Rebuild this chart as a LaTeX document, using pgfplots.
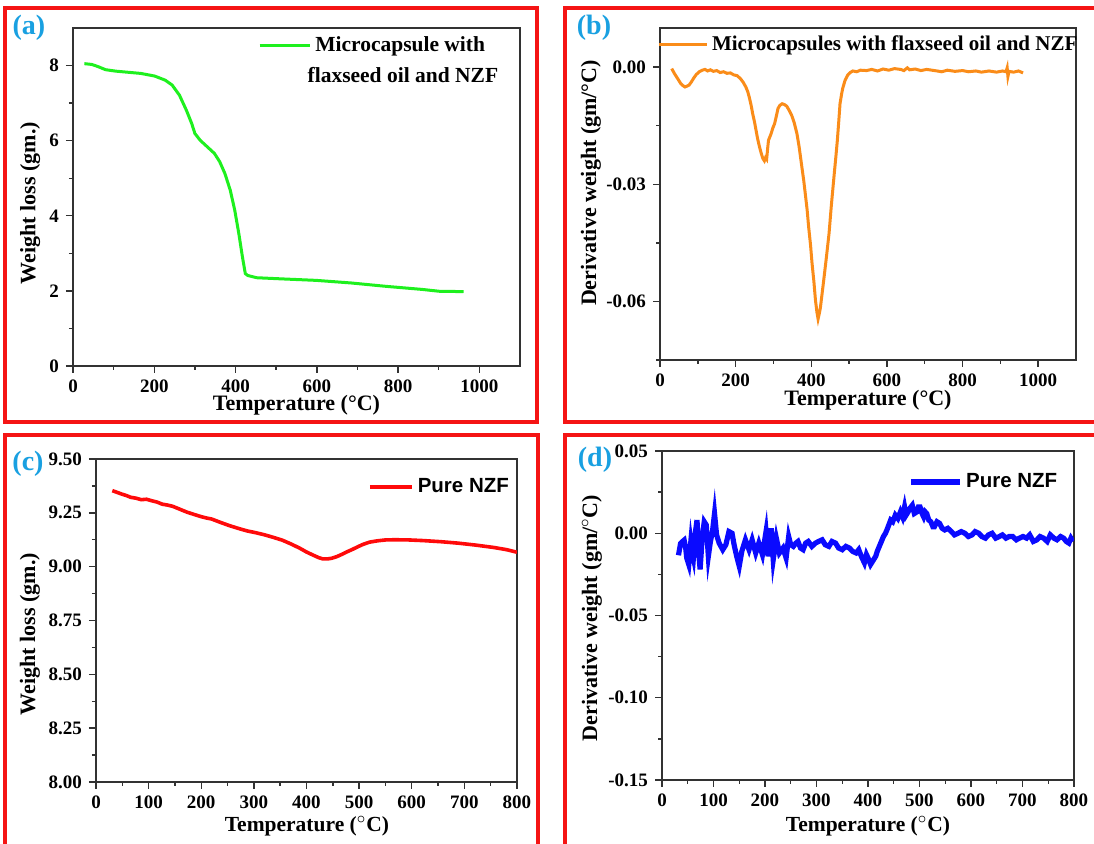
\documentclass[border=0pt]{standalone}
\usepackage{pgfplots}
\pgfplotsset{compat=1.18}
\usepackage{fontspec}
\setmainfont{Liberation Serif}
\newfontfamily\arialfont{Liberation Sans}
\definecolor{lblue}{RGB}{25,160,225}
\definecolor{cgreen}{RGB}{30,240,30}
\definecolor{corange}{RGB}{250,140,25}
\definecolor{cred}{RGB}{255,10,10}
\definecolor{cblue}{RGB}{10,10,255}
\definecolor{framered}{RGB}{245,20,20}
\definecolor{axgray}{RGB}{50,50,50}

\pgfplotsset{
  myax/.style={
    scale only axis,
    axis line style={axgray, line width=0.7pt},
    every tick/.style={axgray, line width=0.7pt},
    tick align=outside,
    tick pos=left,
    major tick length=3.5pt,
    minor tick length=2pt,
    tick label style={font=\fontsize{9.5}{11}\selectfont\bfseries},
    label style={font=\fontsize{11}{13}\selectfont\bfseries},
    /pgf/number format/assume math mode=true,
    /pgf/number format/1000 sep={},
    scaled x ticks=false, scaled y ticks=false,
    legend style={draw=none, fill=none},
    legend cell align=left,
  },
  leglen/.style={legend image code/.code={\draw[##1] (0cm,0cm) -- (#1,0cm);}},
}

\pgfplotstableread{
T W
28 8.05
46 8.03
62 7.97
80 7.89
106 7.85
167 7.79
201 7.72
227 7.61
244 7.48
262 7.21
279 6.81
292 6.46
300 6.19
313 6.01
331 5.83
348 5.66
361 5.44
374 5.12
387 4.68
398 4.15
408 3.53
417 2.90
424 2.46
430 2.41
452 2.35
512 2.32
598 2.28
685 2.21
771 2.12
858 2.04
901 1.99
961 1.98
}\tabA

\pgfplotstableread{
T D
31 -0.0004
39 -0.0018
47 -0.0030
54 -0.0041
60 -0.0047
66 -0.0051
71 -0.0049
77 -0.0046
83 -0.0038
90 -0.0027
96 -0.0019
104 -0.0012
112 -0.0008
119 -0.0006
126 -0.0010
133 -0.0007
141 -0.0011
150 -0.0009
159 -0.0014
168 -0.0012
177 -0.0016
186 -0.0015
195 -0.0020
204 -0.0022
213 -0.0030
220 -0.0039
227 -0.0051
232 -0.0063
236 -0.0077
241 -0.0098
245 -0.0119
250 -0.0141
254 -0.0162
258 -0.0183
263 -0.0204
268 -0.0222
272 -0.0234
276 -0.0240
279 -0.0232
282 -0.0236
285 -0.0205
287 -0.0187
290 -0.0180
294 -0.0170
298 -0.0157
303 -0.0145
308 -0.0124
312 -0.0106
317 -0.0098
323 -0.0094
329 -0.0096
335 -0.0100
341 -0.0110
348 -0.0123
355 -0.0143
362 -0.0170
368 -0.0205
375 -0.0255
380 -0.0290
384 -0.0323
389 -0.0365
393 -0.0409
398 -0.0455
402 -0.0502
407 -0.0550
411 -0.0596
415 -0.0628
418 -0.0645
421 -0.0632
424 -0.0617
428 -0.0585
433 -0.0545
440 -0.0487
447 -0.0426
453 -0.0355
460 -0.0281
465 -0.0230
469 -0.0187
473 -0.0135
476 -0.0094
480 -0.0070
483 -0.0055
489 -0.0035
496 -0.0021
503 -0.0014
510 -0.0010
520 -0.0012
530 -0.0008
546 -0.0009
560 -0.0006
575 -0.0010
590 -0.0005
605 -0.0008
620 -0.0004
636 -0.0006
645 -0.0009
654 -0.0002
660 -0.0007
675 -0.0005
690 -0.0009
705 -0.0006
726 -0.0009
745 -0.0012
760 -0.0008
780 -0.0011
800 -0.0009
816 -0.0012
835 -0.0010
850 -0.0013
870 -0.0010
890 -0.0013
906 -0.0010
915 -0.0012
918 -0.0002
920 -0.0024
923 -0.0011
935 -0.0013
948 -0.0010
960 -0.0015
}\tabB

\pgfplotstableread{
T W
31 9.353
40 9.345
49 9.337
58 9.330
66 9.322
76 9.318
86 9.311
96 9.313
106 9.306
116 9.300
126 9.290
136 9.286
146 9.280
160 9.266
173 9.253
187 9.242
200 9.232
210 9.226
220 9.221
236 9.206
253 9.191
270 9.178
287 9.166
303 9.158
320 9.148
337 9.136
354 9.123
370 9.106
387 9.086
400 9.068
414 9.052
423 9.042
431 9.036
440 9.036
448 9.039
458 9.047
468 9.058
478 9.070
488 9.081
498 9.093
508 9.104
520 9.114
535 9.120
550 9.124
568 9.125
595 9.124
622 9.121
655 9.116
689 9.109
722 9.100
756 9.089
780 9.079
800 9.067
}\tabC

\pgfplotstableread{
T D
32 -0.0134
36 -0.0063
40 -0.0050
43 -0.0042
46 -0.0090
48 -0.0150
52 -0.0190
56 -0.0050
59 -0.0120
61 -0.0150
65 0.0010
68 0.0080
71 -0.0110
74 -0.0220
78 -0.0030
82 0.0070
86 0.0050
90 -0.0140
94 -0.0050
98 0.0010
102 0.0120
106 -0.0010
111 -0.0060
118 -0.0100
124 -0.0070
130 0.0010
136 0.0000
140 -0.0070
145 -0.0140
150 -0.0200
155 -0.0110
162 -0.0040
169 -0.0100
175 -0.0040
182 -0.0120
188 -0.0060
195 -0.0130
202 0.0010
206 -0.0140
212 0.0030
216 -0.0160
222 -0.0030
228 -0.0120
235 -0.0090
241 -0.0150
246 -0.0020
250 -0.0070
255 -0.0080
260 -0.0060
264 -0.0050
269 -0.0090
274 -0.0100
279 -0.0060
284 -0.0050
291 -0.0080
298 -0.0060
304 -0.0050
311 -0.0040
317 -0.0070
324 -0.0080
330 -0.0050
337 -0.0060
343 -0.0090
350 -0.0100
357 -0.0080
364 -0.0090
370 -0.0110
377 -0.0120
382 -0.0100
387 -0.0140
393 -0.0180
397 -0.0130
400 -0.0150
405 -0.0190
409 -0.0170
415 -0.0140
418 -0.0110
422 -0.0080
426 -0.0050
430 -0.0020
434 0.0000
438 0.0030
444 0.0080
448 0.0070
453 0.0110
458 0.0090
463 0.0130
467 0.0100
471 0.0160
474 0.0110
477 0.0125
481 0.0150
486 0.0170
490 0.0120
495 0.0130
498 0.0160
501 0.0160
505 0.0120
508 0.0100
511 0.0130
514 0.0120
518 0.0080
522 0.0070
526 0.0040
529 0.0040
534 0.0070
539 0.0060
544 0.0030
549 0.0020
555 0.0030
562 0.0010
568 -0.0010
575 0.0000
581 0.0010
588 0.0000
595 -0.0020
602 -0.0010
608 0.0010
615 0.0000
621 -0.0020
628 -0.0030
634 -0.0010
641 0.0000
648 -0.0030
655 -0.0020
661 -0.0010
668 -0.0030
674 -0.0020
681 -0.0020
688 -0.0040
694 -0.0030
701 -0.0020
708 -0.0030
714 -0.0010
721 -0.0050
728 -0.0040
734 -0.0020
741 -0.0030
748 -0.0050
754 -0.0010
761 -0.0030
767 -0.0040
774 -0.0020
780 -0.0030
785 -0.0050
790 -0.0060
794 -0.0030
798 -0.0050
}\tabD

\begin{document}
\begin{tikzpicture}[x=0.5pt,y=0.5pt]
\useasboundingbox (0,0) rectangle (1094,844);
\fill[white] (0,0) rectangle (1094,844);
\begin{scope}
\clip (0,0) rectangle (1094,844);
\draw[framered, line width=1.6pt] (5,836) rectangle (537,422);
\draw[framered, line width=1.6pt] (565,836) rectangle (1110,422);
\draw[framered, line width=1.6pt] (5,409) rectangle (538,-20);
\draw[framered, line width=1.6pt] (565,409) rectangle (1110,-20);
\end{scope}
\coordinate (PA) at (73,478);
\coordinate (PB) at (660,484);
\coordinate (PC) at (96,62);
\coordinate (PD) at (662,64);

% (a)
\begin{axis}[myax, at={(PA)}, anchor=south west, width=223.5pt, height=169pt,
  xmin=0, xmax=1100, ymin=0, ymax=9,
  xtick={0,200,...,1000}, minor x tick num=1,
  ytick={0,2,...,8}, minor y tick num=1,
  xlabel={Temperature (°C)}, ylabel={Weight loss (gm.)},
  xlabel style={at={(axis description cs:0.5,-0.115)}, anchor=center},
  ylabel style={at={(axis description cs:-0.096,0.482)}, anchor=center},
  legend style={at={(axis description cs:0.40,0.947)}, anchor=west, font=\fontsize{10.75}{13}\selectfont\bfseries},
  leglen=0.88cm,
]
\addplot[cgreen, line width=1.5pt] table[x=T,y=W] {\tabA};
\addlegendentry{Microcapsule with}
\node[font=\fontsize{10.75}{13}\selectfont\bfseries, anchor=center] at (axis description cs:0.738,0.861) {flaxseed oil and NZF};
\end{axis}

% (b)
\begin{axis}[myax, at={(PB)}, anchor=south west, width=208pt, height=166pt,
  xmin=0, xmax=1100, ymin=-0.075, ymax=0.01,
  xtick={0,200,...,1000}, minor x tick num=1,
  ytick={-0.06,-0.03,0}, yticklabels={-0.06,-0.03,0.00},
  minor ytick={-0.075,-0.045,-0.015},
  xlabel={Temperature (°C)}, ylabel={Derivative weight (gm/°C)},
  xlabel style={at={(axis description cs:0.5,-0.12)}, anchor=center},
  ylabel style={at={(axis description cs:-0.166,0.533)}, anchor=center},
  legend style={at={(axis description cs:-0.022,0.949)}, anchor=west, font=\fontsize{10.5}{12.5}\selectfont\bfseries},
  leglen=0.84cm,
]
\addplot[corange, line width=1.5pt] table[x=T,y=D] {\tabB};
\addlegendentry{Microcapsules with flaxseed oil and NZF}
\end{axis}

% (c)
\begin{axis}[myax, at={(PC)}, anchor=south west, width=210.5pt, height=161.5pt,
  xmin=0, xmax=800, ymin=8, ymax=9.5,
  xtick={0,100,...,800}, minor x tick num=1,
  ytick={8,8.25,...,9.5}, minor y tick num=1,
  yticklabel style={/pgf/number format/.cd, fixed, fixed zerofill, precision=2},
  xlabel={Temperature ($^{\circ}$C)}, ylabel={Weight loss (gm.)},
  xlabel style={at={(axis description cs:0.501,-0.136)}, anchor=center, font=\fontsize{10.75}{13}\selectfont\bfseries},
  ylabel style={at={(axis description cs:-0.157,0.458)}, anchor=center},
  legend style={at={(axis description cs:0.631,0.913)}, anchor=west, font=\fontsize{10.25}{12}\arialfont\bfseries},
  leglen=0.74cm,
]
\addplot[cred, line width=1.8pt] table[x=T,y=W] {\tabC};
\addlegendentry{Pure NZF}
\end{axis}

% (d)
\begin{axis}[myax, at={(PD)}, anchor=south west, width=206pt, height=164.5pt,
  xmin=0, xmax=800, ymin=-0.15, ymax=0.05,
  xtick={0,100,...,800}, minor x tick num=1,
  ytick={-0.15,-0.1,-0.05,0,0.05}, yticklabels={-0.15,-0.10,-0.05,0.00,0.05},
  minor y tick num=1,
  xlabel={Temperature ($^{\circ}$C)}, ylabel={Derivative weight (gm/$^{\circ}$C)},
  xlabel style={at={(axis description cs:0.5,-0.139)}, anchor=center, font=\fontsize{10.75}{13}\selectfont\bfseries},
  ylabel style={at={(axis description cs:-0.170,0.492)}, anchor=center},
  legend style={at={(axis description cs:0.583,0.906)}, anchor=west, font=\fontsize{10.25}{12}\arialfont\bfseries},
  leglen=0.85cm,
]
\addplot[cblue, line width=2.6pt] table[x=T,y=D] {\tabD};
\addlegendentry{Pure NZF}
\end{axis}

\node[font=\fontsize{14}{16}\selectfont\bfseries, text=lblue] at (29,816) {(a)};
\node[font=\fontsize{14}{16}\selectfont\bfseries, text=lblue] at (594,816) {(b)};
\node[font=\fontsize{14}{16}\selectfont\bfseries, text=lblue] at (28,380) {(c)};
\node[font=\fontsize{14}{16}\selectfont\bfseries, text=lblue] at (595,384) {(d)};
\end{tikzpicture}
\end{document}
